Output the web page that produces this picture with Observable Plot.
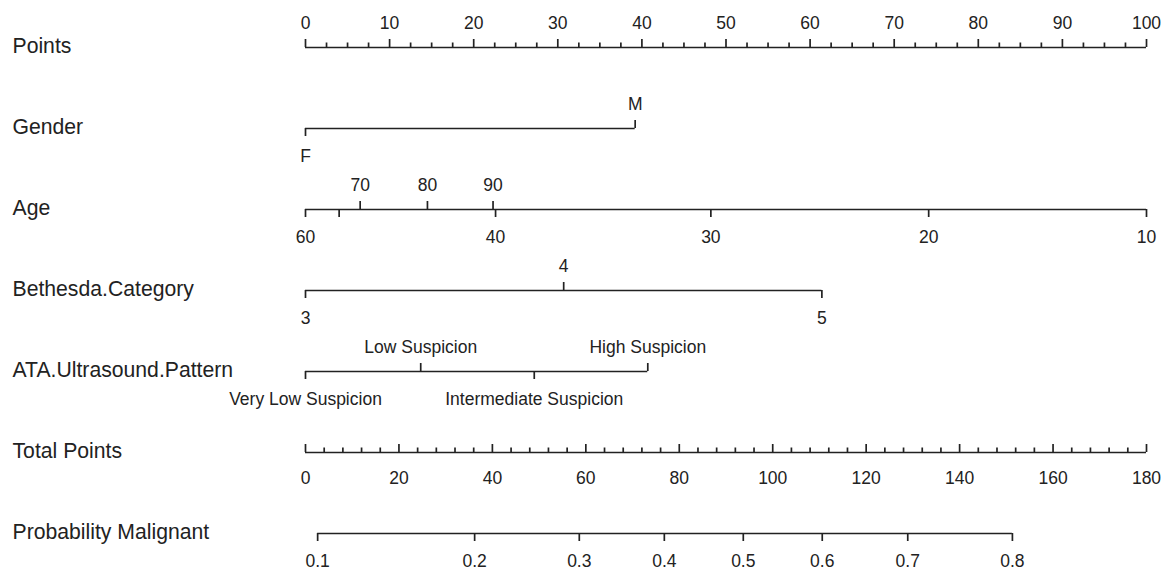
<!DOCTYPE html>
<html><head><meta charset="utf-8">
<script src="https://cdn.jsdelivr.net/npm/d3@7"></script>
<script src="https://cdn.jsdelivr.net/npm/@observablehq/plot@0.6"></script>
<style>html,body{margin:0;padding:0;background:#fff;}</style>
</head><body><div id="chart"></div>
<script>
// ---- data ----
const rows = ["Points", "Gender", "Age", "Bethesda.Category", "ATA.Ultrasound.Pattern", "Total Points", "Probability Malignant"];

const pointsLabels = [0, 10, 20, 30, 40, 50, 60, 70, 80, 90, 100];
const pointsMinorStep = 2.5;

const genderLevels = ["F", "M"];
const genderPoints = [0, 39.2];
const genderSide = ["below", "above"];

const ageValues = [60, 50, 40, 30, 20, 10, 70, 80, 90];
const agePoints = [0, 4.0, 22.6, 48.2, 74.1, 100, 6.5, 14.5, 22.3];
const ageSide = ["below", "below", "below", "below", "below", "below", "above", "above", "above"];
const ageLabelShown = [true, false, true, true, true, true, true, true, true];

const bethesdaLevels = ["3", "4", "5"];
const bethesdaPoints = [0, 30.7, 61.4];
const bethesdaSide = ["below", "above", "below"];

const ataLevels = ["Very Low Suspicion", "Low Suspicion", "Intermediate Suspicion", "High Suspicion"];
const ataPoints = [0, 13.7, 27.2, 40.7];
const ataSide = ["below", "above", "below", "above"];

const totalLabels = [0, 20, 40, 60, 80, 100, 120, 140, 160, 180];
const totalMinorStep = 4;
const totalMax = 180;

const probLabels = [0.1, 0.2, 0.3, 0.4, 0.5, 0.6, 0.7, 0.8];
const probTotalPoints = [2.6, 36.2, 58.6, 76.8, 93.7, 110.6, 128.9, 151.3];

// ---- build tables ----
const toPts = t => t * 100 / totalMax; // total points -> points scale
const ticks = [];
pointsLabels.forEach(v => ticks.push({row: "Points", x: v, label: String(v), side: "above", kind: "upLong", show: true}));
d3.range(0, 100 + 1e-9, pointsMinorStep).filter(v => !pointsLabels.includes(v))
  .forEach(v => ticks.push({row: "Points", x: v, label: "", side: "above", kind: "upShort", show: false}));
genderLevels.forEach((l, i) => ticks.push({row: "Gender", x: genderPoints[i], label: l, side: genderSide[i], kind: genderSide[i] === "above" ? "upLong" : "downLong", show: true}));
ageValues.forEach((v, i) => ticks.push({row: "Age", x: agePoints[i], label: String(v), side: ageSide[i], kind: ageSide[i] === "above" ? "upLong" : "downLong", show: ageLabelShown[i]}));
bethesdaLevels.forEach((l, i) => ticks.push({row: "Bethesda.Category", x: bethesdaPoints[i], label: l, side: bethesdaSide[i], kind: bethesdaSide[i] === "above" ? "upLong" : "downLong", show: true}));
ataLevels.forEach((l, i) => ticks.push({row: "ATA.Ultrasound.Pattern", x: ataPoints[i], label: l, side: ataSide[i], kind: ataSide[i] === "above" ? "upLong" : "downLong", show: true}));
totalLabels.forEach(v => ticks.push({row: "Total Points", x: toPts(v), label: String(v), side: "belowT", kind: "upLong", show: true}));
d3.range(0, totalMax + 1e-9, totalMinorStep).filter(v => !totalLabels.includes(v))
  .forEach(v => ticks.push({row: "Total Points", x: toPts(v), label: "", side: "belowT", kind: "upShort", show: false}));
probLabels.forEach((p, i) => ticks.push({row: "Probability Malignant", x: toPts(probTotalPoints[i]), label: String(p), side: "below", kind: "downLong", show: true}));

const segments = Array.from(d3.group(ticks, d => d.row), ([row, arr]) => ({row, x1: d3.min(arr, d => d.x), x2: d3.max(arr, d => d.x)}));

const ink = "#222";
const lineW = 1.7;
const tickFont = 17.5;

const chart = Plot.plot({
  width: 1166,
  height: 570,
  marginLeft: 305,
  marginRight: 20,
  marginTop: 0,
  marginBottom: 0,
  style: {fontFamily: "'Liberation Sans', Arial, Helvetica, sans-serif", background: "#fff", color: ink},
  x: {domain: [0, 100], axis: null},
  y: {type: "point", domain: rows, range: [46, 533], padding: 0, axis: null},
  marks: [
    Plot.ruleY(segments, {y: "row", x1: "x1", x2: "x2", stroke: ink, strokeWidth: lineW}),
    Plot.ruleX(ticks.filter(d => d.kind === "upLong"), {x: "x", y1: "row", y2: "row", insetTop: -8, stroke: ink, strokeWidth: lineW}),
    Plot.ruleX(ticks.filter(d => d.kind === "upShort"), {x: "x", y1: "row", y2: "row", insetTop: -4.5, stroke: ink, strokeWidth: lineW}),
    Plot.ruleX(ticks.filter(d => d.kind === "downLong"), {x: "x", y1: "row", y2: "row", insetBottom: -8, stroke: ink, strokeWidth: lineW}),
    Plot.text(ticks.filter(d => d.show && d.side === "above"), {x: "x", y: "row", text: "label", dy: -19, lineAnchor: "bottom", fontSize: tickFont, fill: ink}),
    Plot.text(ticks.filter(d => d.show && d.side === "below"), {x: "x", y: "row", text: "label", dy: 33, lineAnchor: "bottom", fontSize: tickFont, fill: ink}),
    Plot.text(ticks.filter(d => d.show && d.side === "belowT"), {x: "x", y: "row", text: "label", dy: 31, lineAnchor: "bottom", fontSize: tickFont, fill: ink}),
    Plot.text(rows, {y: d => d, text: d => d, frameAnchor: "left", textAnchor: "start", dx: -293, dy: -1, fontSize: 21.2, fill: ink})
  ]
});
document.getElementById("chart").appendChild(chart);
</script>
</body></html>
